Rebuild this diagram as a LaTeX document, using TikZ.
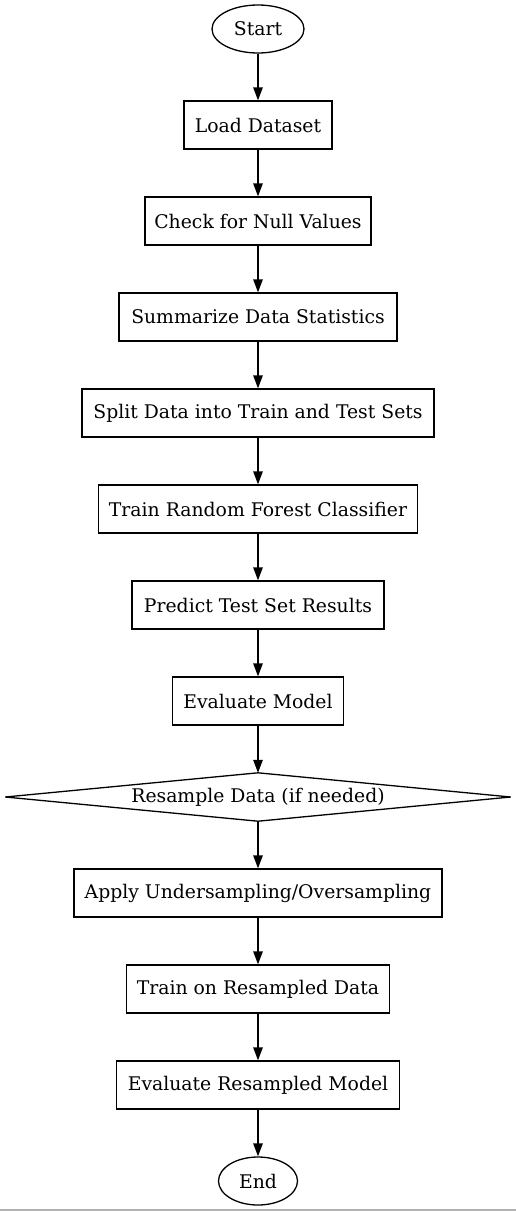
\documentclass[tikz,border=0pt]{standalone}
\usepackage{fontspec}
\setmainfont{DejaVu Serif}
\usetikzlibrary{arrows.meta,shapes.geometric}
\begin{document}
\begin{tikzpicture}[x=1pt,y=-1pt,
  every node/.style={font=\fontsize{18.8}{22}\selectfont, inner sep=0pt},
  box/.style={draw, line width=1.3pt, minimum height=48pt, rectangle},
  oval/.style={draw, line width=1.3pt, ellipse, minimum height=48pt},
  arr/.style={line width=1.3pt, -{Triangle[length=13pt,width=9.5pt]}}]
\useasboundingbox (0,0) rectangle (516,1211);
\draw[line width=1.3pt, gray!60] (0,1210) -- (516,1210);
\node[oval, minimum width=92pt] (start) at (258,29) {Start};
\node[box, minimum width=148pt] (load) at (258,125) {Load Dataset};
\node[box, minimum width=226pt] (null) at (258,221) {Check for Null Values};
\node[box, minimum width=278pt] (summ) at (258,317) {Summarize Data Statistics};
\node[box, minimum width=352pt] (split) at (258,413) {Split Data into Train and Test Sets};
\node[box, minimum width=319pt] (train) at (258,509) {Train Random Forest Classifier};
\node[box, minimum width=252pt] (pred) at (258,605) {Predict Test Set Results};
\node[box, minimum width=171pt] (eval) at (258,701) {Evaluate Model};
\node[minimum width=505pt, minimum height=48pt] (res) at (258,797) {Resample Data (if needed)};
\draw[line width=1.3pt] (res.north) -- (res.east) -- (res.south) -- (res.west) -- cycle;
\node[box, minimum width=368pt] (apply) at (258,893) {Apply Undersampling/Oversampling};
\node[box, minimum width=263pt] (trres) at (258,989) {Train on Resampled Data};
\node[box, minimum width=283pt] (evres) at (258,1085) {Evaluate Resampled Model};
\node[oval, minimum width=79pt] (end) at (258,1181) {End};
\draw[arr] (start) -- (load);
\draw[arr] (load) -- (null);
\draw[arr] (null) -- (summ);
\draw[arr] (summ) -- (split);
\draw[arr] (split) -- (train);
\draw[arr] (train) -- (pred);
\draw[arr] (pred) -- (eval);
\draw[arr] (eval) -- (res.north);
\draw[arr] (res.south) -- (apply);
\draw[arr] (apply) -- (trres);
\draw[arr] (trres) -- (evres);
\draw[arr] (evres) -- (end);
\end{tikzpicture}
\end{document}
